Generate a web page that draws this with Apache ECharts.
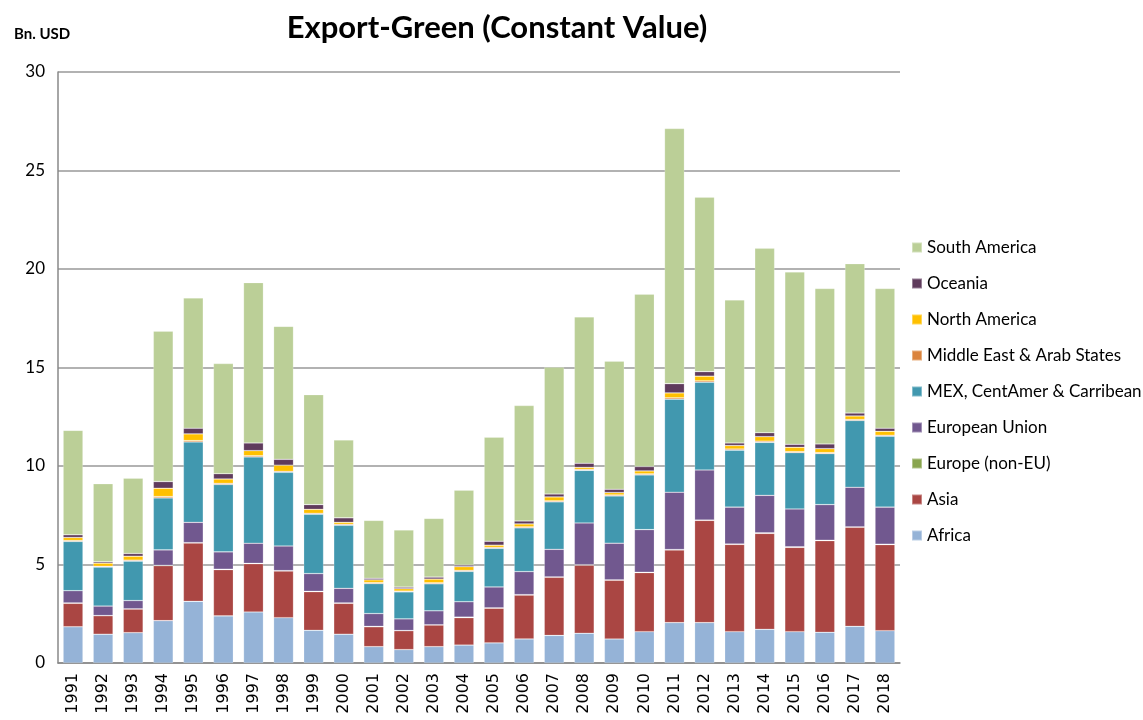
<!DOCTYPE html>
<html>
<head>
<meta charset="utf-8">
<script src="https://cdn.jsdelivr.net/npm/echarts@6/dist/echarts.min.js"></script>
<style>
  html, body { margin: 0; padding: 0; background: #fff; }
  #mychart { width: 1143px; height: 720px; }
</style>
</head>
<body>
<div id="mychart"></div>
<script>
var years = ['1991','1992','1993','1994','1995','1996','1997','1998','1999','2000',
    '2001','2002','2003','2004','2005','2006','2007','2008','2009','2010',
    '2011','2012','2013','2014','2015','2016','2017','2018'];

// values, Bn. USD
var africa = [1.84,1.46,1.54,2.15,3.13,2.39,2.59,2.30,1.66,1.46,0.83,0.68,0.83,0.91,1.02,1.22,1.40,1.51,1.22,1.59,2.05,2.05,1.59,1.71,1.59,1.56,1.86,1.64];
var asia = [1.19,0.94,1.20,2.79,2.96,2.35,2.45,2.37,1.96,1.57,1.01,0.96,1.10,1.39,1.76,2.23,2.95,3.46,2.98,3.00,3.69,5.19,4.43,4.87,4.28,4.65,5.03,4.37];
var europeNonEU = [0.02,0.01,0.01,0.02,0.02,0.02,0.02,0.02,0.02,0.02,0.02,0.01,0.01,0.03,0.02,0.02,0.02,0.02,0.02,0.02,0.02,0.02,0.02,0.03,0.03,0.02,0.02,0.02];
var eu = [0.62,0.48,0.42,0.78,1.03,0.88,1.02,1.25,0.90,0.74,0.65,0.59,0.71,0.78,1.06,1.17,1.40,2.12,1.86,2.16,2.91,2.54,1.87,1.90,1.92,1.81,2.01,1.88];
var mex = [2.50,1.98,2.00,2.64,4.08,3.42,4.38,3.74,3.01,3.20,1.52,1.37,1.37,1.54,1.96,2.22,2.41,2.67,2.40,2.78,4.72,4.45,2.89,2.69,2.86,2.59,3.39,3.60];
var middleEast = [0.05,0.04,0.05,0.07,0.07,0.06,0.06,0.05,0.05,0.05,0.05,0.04,0.05,0.05,0.05,0.05,0.05,0.05,0.05,0.05,0.07,0.07,0.06,0.06,0.05,0.05,0.05,0.05];
var northAmerica = [0.15,0.16,0.20,0.42,0.34,0.22,0.26,0.31,0.20,0.10,0.14,0.12,0.19,0.19,0.11,0.15,0.20,0.10,0.12,0.15,0.25,0.24,0.18,0.23,0.22,0.20,0.18,0.20];
var oceania = [0.14,0.07,0.14,0.34,0.29,0.27,0.39,0.30,0.24,0.23,0.08,0.08,0.10,0.08,0.20,0.15,0.15,0.21,0.17,0.22,0.47,0.23,0.13,0.20,0.15,0.24,0.15,0.16];
var southAmerica = [5.30,3.96,3.82,7.63,6.61,5.59,8.14,6.75,5.58,3.95,2.94,2.90,2.98,3.80,5.28,5.86,6.44,7.43,6.50,8.75,12.95,8.85,7.26,9.36,8.75,7.89,7.58,7.09];

var seriesNames = ['Africa','Asia','Europe (non-EU)','European Union','MEX, CentAmer & Carribean',
    'Middle East & Arab States','North America','Oceania','South America'];
var seriesData = [africa, asia, europeNonEU, eu, mex, middleEast, northAmerica, oceania, southAmerica];
var seriesColors = ['#95B3D7','#AA4643','#89A54E','#71588F','#4198AF','#DB843D','#FFC000','#5F3B5C','#BBCF97'];

var series = seriesNames.map(function (name, i) {
    return {
        name: name,
        type: 'bar',
        stack: 'total',
        barWidth: '66%',
        data: seriesData[i],
        itemStyle: { color: seriesColors[i], borderColor: 'rgba(255,255,255,0.35)', borderWidth: 0.6 },
        emphasis: { disabled: true }
    };
});

var myChart = echarts.init(document.getElementById('mychart'));
var option = {
    animation: false,
    textStyle: { fontFamily: 'Lato' },
    title: [
        {
            text: 'Export-Green (Constant Value)',
            left: 492, top: 7, textAlign: 'center',
            textStyle: { fontFamily: 'Lato', fontSize: 31, fontWeight: 'bold', color: '#000' }
        },
        {
            text: 'Bn. USD',
            left: 9, top: 22,
            textStyle: { fontFamily: 'Lato', fontSize: 15, fontWeight: 'bold', color: '#000' }
        }
    ],
    legend: {
        orient: 'vertical',
        left: 906,
        top: 234,
        itemWidth: 10,
        itemHeight: 10,
        itemGap: 19,
        icon: 'rect',
        data: seriesNames.slice().reverse(),
        textStyle: { fontSize: 17, color: '#000', fontFamily: 'Lato' }
    },
    grid: { left: 58, right: 243, top: 72, bottom: 57 },
    xAxis: {
        type: 'category',
        data: years,
        axisLine: { lineStyle: { color: '#888', width: 1.5 } },
        axisTick: { show: false },
        axisLabel: { rotate: 90, fontSize: 16, color: '#000', fontFamily: 'DejaVu Sans', margin: 10, interval: 0 }
    },
    yAxis: {
        type: 'value',
        min: 0,
        max: 30,
        interval: 5,
        axisLine: { show: true, lineStyle: { color: '#888', width: 1.5 } },
        axisTick: { show: false },
        splitLine: { lineStyle: { color: '#999', width: 1.5 } },
        axisLabel: { fontSize: 17, color: '#000', margin: 13, fontFamily: 'Lato' }
    },
    series: series
};
myChart.setOption(option);
</script>
</body>
</html>
